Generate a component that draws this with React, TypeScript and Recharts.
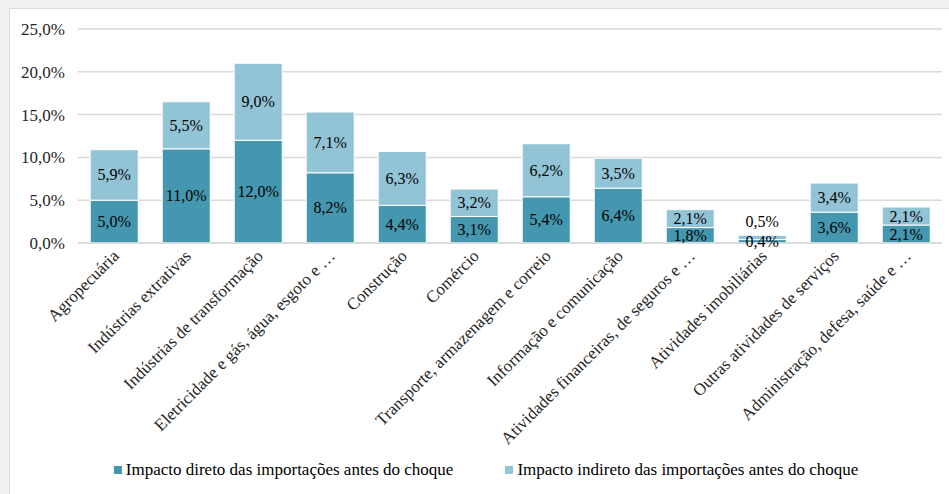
// Gráfico de barras empilhadas: impacto direto e indireto das importações por setor
import { BarChart, Bar, XAxis, YAxis, CartesianGrid, Legend, LabelList } from "recharts";

// Setores (rótulos do eixo X, já truncados como no original)
const setores = [
  "Agropecuária",
  "Indústrias extrativas",
  "Indústrias de transformação",
  "Eletricidade e gás, água, esgoto e …",
  "Construção",
  "Comércio",
  "Transporte, armazenagem e correio",
  "Informação e comunicação",
  "Atividades financeiras, de seguros e …",
  "Atividades imobiliárias",
  "Outras atividades de serviços",
  "Administração, defesa, saúde e …",
];

// Valores em %
const impactoDireto = [5.0, 11.0, 12.0, 8.2, 4.4, 3.1, 5.4, 6.4, 1.8, 0.4, 3.6, 2.1];
const impactoIndireto = [5.9, 5.5, 9.0, 7.1, 6.3, 3.2, 6.2, 3.5, 2.1, 0.5, 3.4, 2.1];

const yTicks = [0, 5, 10, 15, 20, 25];

const nomeDireto = "Impacto direto das importações antes do choque";
const nomeIndireto = "Impacto indireto das importações antes do choque";

const COR_DIRETO = "#4497ae";
const COR_INDIRETO = "#93c4d6";
const FONTE = "Tinos, 'Liberation Serif', 'DejaVu Serif', 'Times New Roman', Times, serif";

const dados = setores.map((s, i) => ({
  setor: s,
  direto: impactoDireto[i],
  indireto: impactoIndireto[i],
}));

const fmt = (v: number) => v.toFixed(1).replace(".", ",") + "%";

// Rótulo do eixo X girado 45°
const TickSetor = (props: any) => {
  const { x, y, payload } = props;
  const tx = x + 6;
  const ty = y + 14;
  return (
    <text
      x={tx}
      y={ty}
      transform={`rotate(-45, ${tx}, ${ty})`}
      textAnchor="end"
      style={{ fontFamily: FONTE, fontSize: 17 }}
      fill="#262626"
    >
      {payload.value}
    </text>
  );
};

// Rótulo de valor no centro do segmento (o do topo vai acima, se for muito pequeno)
const RotuloValor = (props: any) => {
  const { x, y, width, height, value, acima } = props;
  let cy = y + height / 2;
  if (acima && height < 8) cy = y - 14;
  return (
    <text
      x={x + width / 2}
      y={cy}
      textAnchor="middle"
      dominantBaseline="central"
      style={{ fontFamily: FONTE, fontSize: 16 }}
      fill="#000"
    >
      {fmt(value)}
    </text>
  );
};

const Legenda = () => (
  <div
    style={{
      display: "flex",
      justifyContent: "center",
      alignItems: "center",
      gap: 52,
      paddingLeft: 20,
      height: 24,
      fontFamily: FONTE,
      fontSize: 17,
      color: "#000",
    }}
  >
    {[
      { nome: nomeDireto, cor: COR_DIRETO },
      { nome: nomeIndireto, cor: COR_INDIRETO },
    ].map((item) => (
      <div key={item.nome} style={{ display: "flex", alignItems: "center" }}>
        <span style={{ width: 8, height: 8, background: item.cor, marginRight: 4, display: "inline-block" }} />
        <span>{item.nome}</span>
      </div>
    ))}
  </div>
);

export default function App() {
  return (
    <div style={{ position: "absolute", left: 0, top: 0, width: 949, height: 494, background: "#f0f0f0", overflow: "hidden" }}>
      <div
        style={{
          position: "absolute",
          left: 9,
          top: 8,
          width: 940,
          height: 486,
          background: "#fff",
          borderLeft: "1px solid #d9d9d9",
          borderTop: "1px solid #d9d9d9",
        }}
      >
        <BarChart
          width={939}
          height={485}
          data={dados}
          margin={{ top: 20, right: 7, bottom: 12, left: 0 }}
          barCategoryGap="17%"
        >
          <CartesianGrid vertical={false} stroke="#d9d9d9" strokeWidth={1.5} />
          <XAxis
            dataKey="setor"
            interval={0}
            height={215}
            tickLine={false}
            tickSize={0}
            tickMargin={0}
            axisLine={{ stroke: "#d9d9d9", strokeWidth: 1.5 }}
            tick={<TickSetor />}
          />
          <YAxis
            width={68}
            domain={[0, 25]}
            ticks={yTicks}
            tickFormatter={fmt}
            axisLine={false}
            tickLine={false}
            tickSize={0}
            tickMargin={13}
            tick={{ fontFamily: FONTE, fontSize: 17, fill: "#262626" }}
          />
          <Legend verticalAlign="bottom" content={<Legenda />} />
          <Bar dataKey="direto" name={nomeDireto} stackId="a" fill={COR_DIRETO} stroke="#fff" strokeWidth={1} isAnimationActive={false}>
            <LabelList dataKey="direto" content={<RotuloValor />} />
          </Bar>
          <Bar dataKey="indireto" name={nomeIndireto} stackId="a" fill={COR_INDIRETO} stroke="#fff" strokeWidth={1} isAnimationActive={false}>
            <LabelList dataKey="indireto" content={<RotuloValor acima />} />
          </Bar>
        </BarChart>
      </div>
    </div>
  );
}
